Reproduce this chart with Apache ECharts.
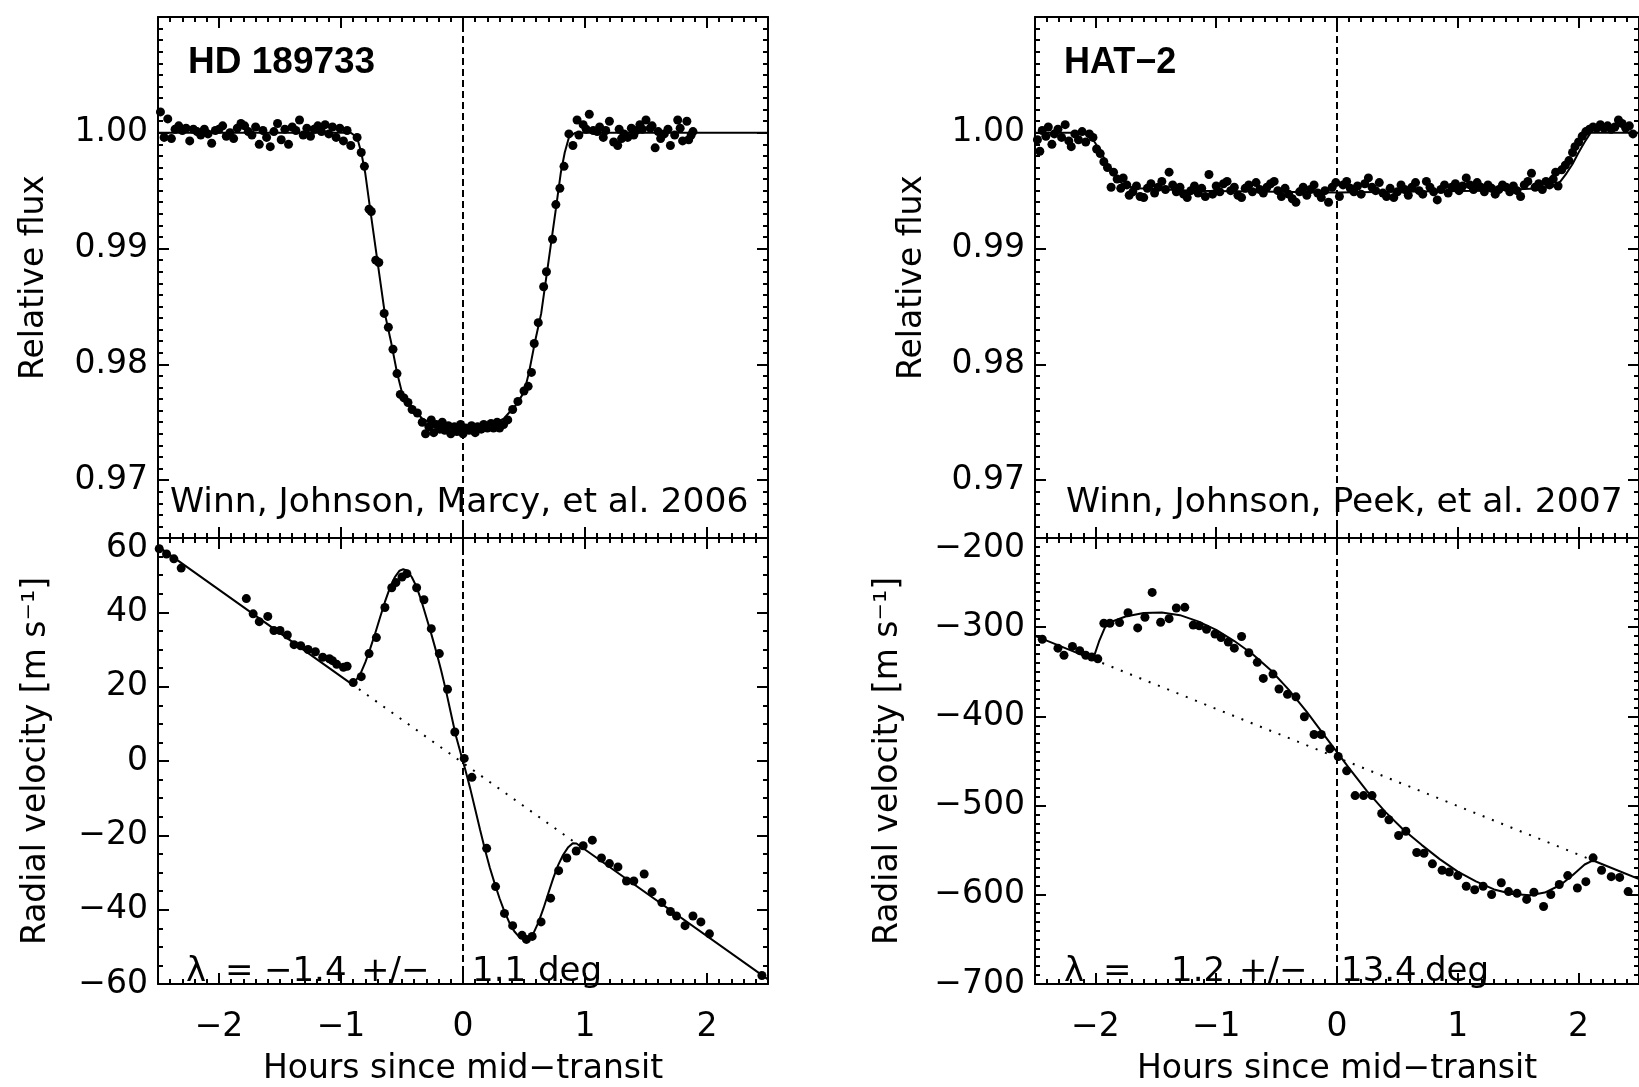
<!DOCTYPE html>
<html>
<head>
<meta charset="utf-8">
<script src="https://cdn.jsdelivr.net/npm/echarts@6/dist/echarts.min.js"></script>
<style>
  html, body { margin: 0; background: #fff; }
  #chart { width: 1639px; height: 1087px; }
</style>
</head>
<body>
<div id="chart"></div>
<script>
// ---- data: [hours since mid-transit, value] ----
const hdFlux = [
  [-2.48,1.0018],[-2.45,0.9996],[-2.42,1.0012],[-2.39,0.9995],[-2.36,1.0003],[-2.33,1.0006],[-2.30,1.0002],
  [-2.27,1.0004],[-2.24,0.9993],[-2.21,1.0003],[-2.18,1.0001],[-2.15,0.9998],[-2.12,1.0003],[-2.09,0.9999],
  [-2.06,0.9991],[-2.03,1.0002],[-2.00,1.0003],[-1.97,1.0006],[-1.94,0.9997],[-1.91,1.0000],[-1.88,0.9995],
  [-1.85,1.0004],[-1.82,1.0008],[-1.79,1.0006],[-1.76,1.0001],[-1.73,0.9998],[-1.70,1.0005],[-1.67,0.9990],
  [-1.64,1.0002],[-1.61,0.9996],[-1.58,0.9988],[-1.55,1.0001],[-1.52,1.0008],[-1.49,0.9994],[-1.46,1.0003],
  [-1.43,0.9990],[-1.40,1.0005],[-1.37,1.0002],[-1.34,1.0011],[-1.31,0.9998],[-1.28,1.0004],[-1.25,0.9997],
  [-1.22,1.0003],[-1.19,1.0006],[-1.16,1.0001],[-1.13,1.0007],[-1.10,0.9999],[-1.07,1.0005],[-1.04,0.9996],
  [-1.01,1.0004],[-0.98,0.9993],[-0.95,1.0002],[-0.92,0.9989],
  [-0.868,0.9996],[-0.834,0.9983],[-0.808,0.9971],[-0.770,0.9934],[-0.752,0.9932],[-0.715,0.9890],
  [-0.690,0.9888],[-0.646,0.9844],[-0.612,0.9832],[-0.574,0.9813],[-0.541,0.9792],[-0.514,0.9774],
  [-0.484,0.9771],[-0.451,0.9767],[-0.417,0.9761],[-0.374,0.9758],[-0.334,0.9750],[-0.307,0.9740],
  [-0.28,0.9746],[-0.26,0.9752],[-0.24,0.9741],[-0.22,0.9748],[-0.19,0.9744],[-0.17,0.9750],[-0.15,0.9743],
  [-0.12,0.9747],[-0.10,0.9740],[-0.07,0.9746],[-0.05,0.9742],[-0.02,0.9748],[0.00,0.9740],[0.02,0.9745],
  [0.05,0.9743],[0.07,0.9747],[0.10,0.9741],[0.12,0.9746],[0.15,0.9744],[0.17,0.9748],[0.20,0.9745],
  [0.23,0.9749],[0.25,0.9745],[0.28,0.9750],
  [0.300,0.9745],[0.333,0.9748],[0.367,0.9752],[0.407,0.9761],[0.450,0.9768],[0.500,0.9777],[0.534,0.9781],
  [0.561,0.9793],[0.584,0.9818],[0.617,0.9836],[0.661,0.9867],[0.684,0.9880],[0.734,0.9908],[0.761,0.9938],
  [0.794,0.9952],[0.828,0.9971],[0.868,0.9999],
  [0.901,0.9989],[0.935,1.0011],[0.95,0.9998],[0.985,1.0007],[1.01,1.0003],[1.035,1.0016],[1.068,1.0002],
  [1.10,1.0001],[1.12,1.0005],[1.15,0.9996],[1.17,1.0002],[1.20,1.0010],[1.235,0.9992],[1.268,0.9989],
  [1.28,1.0003],[1.30,0.9995],[1.32,0.9999],[1.35,0.9996],[1.38,1.0004],[1.40,0.9998],[1.42,1.0002],
  [1.45,1.0007],[1.47,1.0003],[1.50,1.0011],[1.535,1.0004],[1.55,1.0006],[1.575,0.9987],[1.60,1.0001],
  [1.62,0.9995],[1.65,0.9999],[1.68,1.0003],[1.70,0.9989],[1.735,0.9998],[1.76,1.0011],[1.78,1.0004],
  [1.80,0.9993],[1.835,1.0010],[1.85,0.9994],[1.87,0.9998],[1.885,1.0001]
];
const hdFluxModel = [
  [-2.5,1.0],[-0.92,1.0],[-0.868,0.9996],[-0.834,0.9983],[-0.801,0.9965],[-0.761,0.9934],[-0.701,0.9889],
  [-0.641,0.9844],[-0.591,0.9820],[-0.541,0.9793],[-0.501,0.9776],[-0.434,0.9765],[-0.334,0.9753],
  [-0.2,0.9746],[0,0.9743],[0.2,0.9746],[0.334,0.9753],[0.434,0.9765],[0.501,0.9776],[0.541,0.9793],
  [0.591,0.9820],[0.641,0.9844],[0.701,0.9889],[0.761,0.9934],[0.801,0.9965],[0.834,0.9983],
  [0.868,0.9996],[0.92,1.0],[2.5,1.0]
];
const hdRv = [
  [-2.49,57.1],[-2.43,55.7],[-2.37,54.4],[-2.31,51.9],[-1.776,43.7],[-1.72,39.6],[-1.67,37.5],[-1.60,38.9],
  [-1.55,35.1],[-1.50,35.1],[-1.44,33.9],[-1.385,31.3],[-1.33,31.0],[-1.27,30.0],[-1.21,29.4],[-1.15,27.9],
  [-1.095,27.5],[-1.07,27.0],[-1.035,26.0],[-0.98,25.2],[-0.95,25.5],[-0.90,21.1],[-0.834,22.7],[-0.77,28.9],
  [-0.71,33.2],[-0.64,41.3],[-0.584,46.6],[-0.55,48.0],[-0.50,49.5],[-0.46,50.4],[-0.38,46.6],[-0.32,43.4],
  [-0.26,35.6],[-0.194,28.9],[-0.127,19.3],[-0.067,7.8],[0.01,0.7],[0.073,-4.4],[0.194,-23.5],[0.267,-33.8],
  [0.34,-41.0],[0.407,-44.3],[0.484,-46.9],[0.52,-48.0],[0.567,-47.2],[0.64,-43.3],[0.718,-36.9],[0.784,-29.5],
  [0.851,-26.1],[0.928,-24.2],[0.985,-22.8],[1.06,-21.3],[1.135,-26.1],[1.20,-27.6],[1.27,-28.5],[1.34,-32.3],
  [1.40,-32.3],[1.485,-30.4],[1.55,-35.2],[1.63,-38.1],[1.70,-40.5],[1.75,-41.7],[1.82,-44.3],[1.885,-41.7],
  [1.95,-43.3],[2.02,-46.5],[2.45,-57.7]
];
const hdRvModel = [
  [-2.5,57.75],[-0.92,20.9],[-0.88,21.6],[-0.84,23.5],[-0.80,26.6],[-0.76,30.3],[-0.72,34.3],[-0.68,38.6],
  [-0.64,42.8],[-0.60,46.5],[-0.56,49.4],[-0.52,51.2],[-0.49,51.6],[-0.46,51.3],[-0.42,49.5],[-0.38,46.8],
  [-0.34,43.0],[-0.30,38.6],[-0.26,34.2],[-0.22,29.5],[-0.18,24.5],[-0.14,19.0],[-0.10,13.0],[-0.06,7.0],
  [-0.02,2.2],[0.02,-2.5],[0.06,-7.5],[0.10,-13.0],[0.14,-18.5],[0.18,-23.8],[0.22,-28.7],[0.26,-33.0],
  [0.30,-37.0],[0.34,-40.5],[0.38,-43.5],[0.42,-45.8],[0.46,-47.3],[0.50,-48.0],[0.54,-47.8],[0.58,-46.2],
  [0.62,-43.3],[0.66,-39.6],[0.70,-35.5],[0.74,-31.5],[0.78,-28.0],[0.82,-25.3],[0.86,-23.3],[0.90,-22.1],
  [0.93,-22.2],[2.5,-58.75]
];
const hdRvTrend = [[-0.92,20.9],[0.93,-22.2]];

const hatFlux = [
  [-2.48,0.9994],[-2.46,0.9984],[-2.44,1.0002],[-2.41,0.9997],[-2.39,1.0005],[-2.36,0.9990],[-2.34,0.9999],
  [-2.31,1.0003],[-2.28,0.9996],[-2.25,1.0007],[-2.22,0.9993],[-2.20,0.9988],[-2.17,0.9999],[-2.14,0.9994],
  [-2.11,1.0001],[-2.08,0.9992],[-2.05,0.9999],[-2.02,0.9996],
  [-1.99,0.9986],[-1.96,0.9982],[-1.93,0.9975],[-1.90,0.9970],[-1.87,0.9953],[-1.85,0.9966],[-1.82,0.9960],
  [-1.79,0.9952],[-1.77,0.9961],[-1.74,0.9955],[-1.72,0.9946],
  [-1.69,0.9949],[-1.66,0.9954],[-1.63,0.9945],[-1.60,0.9944],[-1.57,0.9952],[-1.54,0.9956],[-1.51,0.9948],
  [-1.48,0.9953],[-1.45,0.9958],[-1.42,0.9951],[-1.39,0.9966],[-1.36,0.9955],[-1.33,0.9949],[-1.30,0.9953],
  [-1.27,0.9947],[-1.24,0.9944],[-1.21,0.9950],[-1.18,0.9954],[-1.15,0.9948],[-1.12,0.9952],[-1.09,0.9945],
  [-1.06,0.9964],[-1.03,0.9947],[-1.00,0.9954],[-0.97,0.9949],[-0.94,0.9956],[-0.91,0.9958],[-0.88,0.9950],
  [-0.85,0.9953],[-0.82,0.9946],[-0.79,0.9944],[-0.76,0.9952],[-0.73,0.9955],[-0.70,0.9949],[-0.67,0.9957],
  [-0.64,0.9951],[-0.61,0.9948],[-0.58,0.9953],[-0.55,0.9956],[-0.52,0.9958],[-0.49,0.9950],[-0.46,0.9945],
  [-0.43,0.9952],[-0.40,0.9947],[-0.37,0.9943],[-0.34,0.9940],[-0.31,0.9949],[-0.28,0.9953],[-0.25,0.9946],
  [-0.22,0.9951],[-0.19,0.9955],[-0.16,0.9948],[-0.13,0.9944],[-0.10,0.9950],[-0.07,0.9940],[-0.04,0.9953],
  [-0.01,0.9957],[0.02,0.9945],[0.05,0.9955],[0.08,0.9958],[0.11,0.9952],[0.14,0.9949],[0.17,0.9954],
  [0.20,0.9947],[0.23,0.9956],[0.26,0.9961],[0.29,0.9953],[0.32,0.9950],[0.35,0.9957],[0.38,0.9948],
  [0.41,0.9945],[0.44,0.9952],[0.47,0.9944],[0.50,0.9949],[0.53,0.9955],[0.56,0.9951],[0.59,0.9946],
  [0.62,0.9953],[0.65,0.9957],[0.68,0.9950],[0.71,0.9947],[0.74,0.9958],[0.77,0.9953],[0.80,0.9949],
  [0.83,0.9942],[0.86,0.9951],[0.89,0.9955],[0.92,0.9948],[0.95,0.9953],[0.98,0.9956],[1.01,0.9950],
  [1.04,0.9954],[1.07,0.9961],[1.10,0.9955],[1.13,0.9951],[1.16,0.9957],[1.19,0.9953],[1.22,0.9949],
  [1.25,0.9955],[1.28,0.9952],[1.31,0.9947],[1.34,0.9951],[1.37,0.9955],[1.40,0.9953],[1.43,0.9949],
  [1.46,0.9954],[1.49,0.9950],[1.52,0.9945],[1.55,0.9955],[1.58,0.9958],[1.61,0.9965],[1.64,0.9953],
  [1.67,0.9956],[1.70,0.9951],[1.73,0.9958],[1.76,0.9955],[1.79,0.9960],
  [1.81,0.9966],[1.83,0.9954],[1.86,0.9968],[1.89,0.9972],[1.92,0.9976],[1.95,0.9983],[1.97,0.9988],
  [2.00,0.9992],[2.03,0.9997],[2.06,1.0001],[2.09,1.0003],[2.12,1.0005],[2.15,1.0004],[2.18,1.0007],
  [2.21,1.0004],[2.24,1.0006],[2.27,1.0003],[2.30,1.0005],[2.33,1.0011],[2.36,1.0008],[2.39,1.0004],
  [2.42,1.0006],[2.45,0.9999]
];
const hatFluxModel = [
  [-2.5,1.0],[-2.06,1.0],[-2.0,0.9991],[-1.95,0.9982],[-1.90,0.9973],[-1.85,0.9965],[-1.80,0.9958],
  [-1.75,0.9954],[-1.65,0.9952],[-1.2,0.9950],[-0.5,0.9949],[0,0.99485],[0.5,0.9949],[1.2,0.9950],
  [1.7,0.9952],[1.8,0.9954],[1.85,0.9958],[1.9,0.9965],[1.95,0.9973],[2.0,0.9983],[2.05,0.9992],
  [2.1,1.0],[2.5,1.0]
];
const hatRv = [
  [-2.44,-313.5],[-2.31,-323.5],[-2.26,-331.5],[-2.19,-321.5],[-2.13,-326.3],[-2.08,-331.5],[-2.03,-333.5],
  [-1.98,-335.5],[-1.93,-295.6],[-1.88,-295.6],[-1.80,-294.8],[-1.73,-283.7],[-1.65,-300.8],[-1.59,-288.8],
  [-1.53,-261.0],[-1.46,-294.4],[-1.39,-290.4],[-1.33,-278.5],[-1.26,-277.7],[-1.19,-297.6],[-1.14,-298.4],
  [-1.08,-302.4],[-1.01,-307.6],[-0.96,-311.6],[-0.90,-316.7],[-0.85,-323.5],[-0.79,-310.4],[-0.73,-328.7],
  [-0.66,-339.4],[-0.61,-357.4],[-0.53,-352.6],[-0.48,-369.3],[-0.41,-375.3],[-0.34,-378.1],[-0.27,-400.4],
  [-0.19,-420.3],[-0.13,-420.3],[-0.06,-436.3],[0.01,-445.0],[0.08,-461.0],[0.15,-488.8],[0.22,-488.8],
  [0.29,-488.8],[0.37,-508.8],[0.43,-515.9],[0.51,-533.5],[0.57,-528.7],[0.66,-552.6],[0.72,-553.4],
  [0.79,-565.3],[0.87,-572.5],[0.93,-574.5],[1.00,-578.5],[1.07,-590.4],[1.14,-594.4],[1.21,-590.4],
  [1.28,-599.6],[1.36,-586.5],[1.42,-596.4],[1.49,-598.4],[1.57,-605.2],[1.63,-597.2],[1.71,-613.1],
  [1.77,-599.6],[1.84,-588.4],[1.91,-578.5],[1.99,-592.4],[2.06,-585.3],[2.12,-558.6],[2.19,-572.5],
  [2.27,-579.7],[2.34,-580.5],[2.41,-596.4]
];
const hatRvModel = [
  [-2.5,-309.8],[-2.02,-336.0],[-1.97,-316.0],[-1.92,-300.0],[-1.85,-293.0],[-1.75,-288.0],[-1.6,-284.0],
  [-1.45,-283.5],[-1.3,-286.5],[-1.15,-293.5],[-1.0,-303.0],[-0.85,-315.5],[-0.7,-330.0],[-0.55,-348.0],
  [-0.4,-370.0],[-0.25,-395.0],[-0.1,-422.0],[0,-440.0],[0.1,-458.0],[0.25,-484.0],[0.4,-507.0],
  [0.55,-527.0],[0.7,-544.0],[0.85,-560.0],[1.0,-574.0],[1.15,-585.0],[1.3,-594.0],[1.45,-599.0],
  [1.6,-600.5],[1.72,-597.5],[1.85,-589.0],[1.95,-578.0],[2.05,-566.0],[2.12,-561.5],[2.5,-582.3]
];
const hatRvTrend = [[-2.02,-336.0],[2.12,-561.5]];

const hourTicks = [-2, -1, 0, 1, 2];
const fluxTicks = [0.97, 0.98, 0.99, 1.00];
const hdRvTicks = [-60, -40, -20, 0, 20, 40, 60];
const hatRvTicks = [-700, -600, -500, -400, -300, -200];
const midTransit = 0;

// ---- styling ----
const INK = '#000';
const FONT = 'DejaVu Sans';
const FS = 33;
const axisLineStyle = { show: true, onZero: false, lineStyle: { color: INK, width: 2 } };
const noLine = { show: false, onZero: false };
const tickStyle = { color: INK, width: 2 };
const signed = (d) => (v) => (v < 0 ? '\u2212' : '') + Math.abs(v).toFixed(d);

const grids = [
  { left: 158, top: 17, width: 610, height: 521 },
  { left: 158, top: 538, width: 610, height: 451 },
  { left: 1035, top: 17, width: 610, height: 521 },
  { left: 1035, top: 538, width: 610, height: 451 }
];

const xAxes = [];
const yAxes = [];

function addX(g, withLabels) {
  const main = xAxes.length;
  const base = { gridIndex: g, type: 'value', min: -2.5, max: 2.5, splitLine: { show: false } };
  xAxes.push(Object.assign({}, base, {
    position: 'bottom',
    axisLine: axisLineStyle,
    axisTick: { inside: true, length: 11, customValues: hourTicks, lineStyle: tickStyle },
    axisLabel: withLabels
      ? { customValues: hourTicks, formatter: signed(0), margin: 27, fontFamily: FONT, fontSize: FS, color: INK }
      : { show: false },
    name: withLabels ? 'Hours since mid\u2212transit' : '',
    nameLocation: 'middle',
    nameGap: 69,
    nameTextStyle: { fontFamily: FONT, fontSize: FS, color: INK }
  }));
  xAxes.push(Object.assign({}, base, {
    position: 'top',
    axisLine: axisLineStyle,
    axisTick: { inside: true, length: 11, customValues: hourTicks, lineStyle: tickStyle },
    axisLabel: { show: false }
  }));
  ['bottom', 'top'].forEach((p) => xAxes.push(Object.assign({}, base, {
    position: p, interval: 0.1,
    axisLine: noLine,
    axisTick: { inside: true, length: 5, lineStyle: tickStyle },
    axisLabel: { show: false }
  })));
  return main;
}

function addY(g, min, max, ticks, minorStep, decimals, name, nameGap, dropTopLabel) {
  const main = yAxes.length;
  const base = { gridIndex: g, type: 'value', min: min, max: max, splitLine: { show: false } };
  const fmt = signed(decimals);
  yAxes.push(Object.assign({}, base, {
    position: 'left',
    axisLine: axisLineStyle,
    axisTick: { inside: true, length: 11, customValues: ticks, lineStyle: tickStyle },
    axisLabel: {
      customValues: ticks,
      // the top label of a lower panel sits a little below its tick, clear of the panel above
      formatter: (v) => (dropTopLabel && v === max ? '{low|' + fmt(v) + '}' : fmt(v)),
      rich: { low: { padding: [20, 0, 0, 0], fontFamily: FONT, fontSize: FS, color: INK } },
      margin: 10, fontFamily: FONT, fontSize: FS, color: INK
    },
    name: name,
    nameLocation: 'middle',
    nameGap: nameGap,
    nameTextStyle: { fontFamily: FONT, fontSize: FS, color: INK }
  }));
  yAxes.push(Object.assign({}, base, {
    position: 'right',
    axisLine: axisLineStyle,
    axisTick: { inside: true, length: 11, customValues: ticks, lineStyle: tickStyle },
    axisLabel: { show: false }
  }));
  ['left', 'right'].forEach((p) => yAxes.push(Object.assign({}, base, {
    position: p, interval: minorStep,
    axisLine: noLine,
    axisTick: { inside: true, length: 5, lineStyle: tickStyle },
    axisLabel: { show: false }
  })));
  return main;
}

const series = [];
function addPanel(g, points, model, trend, yMin, yMax, ticks, minorStep, decimals, name, nameGap, withXLabels) {
  const xi = addX(g, withXLabels);
  const yi = addY(g, yMin, yMax, ticks, minorStep, decimals, name, nameGap, withXLabels);
  series.push({
    type: 'line', xAxisIndex: xi, yAxisIndex: yi, symbol: 'none', silent: true,
    data: [[midTransit, yMin], [midTransit, yMax]],
    lineStyle: { color: INK, width: 2, type: [7, 4] }, z: 1
  });
  if (trend) {
    series.push({
      type: 'line', xAxisIndex: xi, yAxisIndex: yi, symbol: 'none', silent: true, data: trend,
      lineStyle: { color: INK, width: 2, type: [2, 8] }, z: 2
    });
  }
  series.push({
    type: 'line', xAxisIndex: xi, yAxisIndex: yi, symbol: 'none', silent: true, data: model,
    lineStyle: { color: INK, width: 2 }, z: 3
  });
  series.push({
    type: 'scatter', xAxisIndex: xi, yAxisIndex: yi, symbol: 'circle', symbolSize: 9, silent: true,
    data: points, itemStyle: { color: INK, opacity: 1 }, z: 4
  });
}

addPanel(0, hdFlux, hdFluxModel, null, 0.965, 1.010, fluxTicks, 0.001, 2, 'Relative flux', 107, false);
addPanel(1, hdRv, hdRvModel, hdRvTrend, -60, 60, hdRvTicks, 5, 0, 'Radial velocity [m s\u207B\u00B9]', 105, true);
addPanel(2, hatFlux, hatFluxModel, null, 0.965, 1.010, fluxTicks, 0.001, 2, 'Relative flux', 106, false);
addPanel(3, hatRv, hatRvModel, hatRvTrend, -700, -200, hatRvTicks, 10, 0, 'Radial velocity [m s\u207B\u00B9]', 130, true);

function label(text, x, y, size, weight, family) {
  return {
    type: 'text', x: x, y: y, silent: true, z: 100,
    style: { text: text, fill: INK, fontFamily: family || FONT, fontSize: size, fontWeight: weight || 'normal', align: 'left', verticalAlign: 'middle' }
  };
}

// the lambda lines are set piece by piece, as the fixed-width format of the original spaces them
const lambdaLeft = [['\u03BB', 186], ['=', 225], ['\u22121.4', 264], ['+/\u2212', 361], ['1.1', 472], ['deg', 538]];
const lambdaRight = [['\u03BB', 1064], ['=', 1103], ['1.2', 1171], ['+/\u2212', 1239], ['13.4', 1341], ['deg', 1425]];

const chart = echarts.init(document.getElementById('chart'), null, { renderer: 'canvas' });
chart.setOption({
  animation: false,
  backgroundColor: '#fff',
  grid: grids,
  xAxis: xAxes,
  yAxis: yAxes,
  series: series,
  graphic: [
    label('HD 189733', 188, 63, 37, 'bold', 'Liberation Sans'),
    label('HAT\u22122', 1064, 63, 36, 'bold', 'Liberation Sans'),
    label('Winn, Johnson, Marcy, et al. 2006', 170, 503, 34.5),
    label('Winn, Johnson, Peek, et al. 2007', 1066, 503, 34.5)
  ].concat(
    lambdaLeft.map((p) => label(p[0], p[1], 972, 34)),
    lambdaRight.map((p) => label(p[0], p[1], 972, 34))
  )
});
</script>
</body>
</html>
